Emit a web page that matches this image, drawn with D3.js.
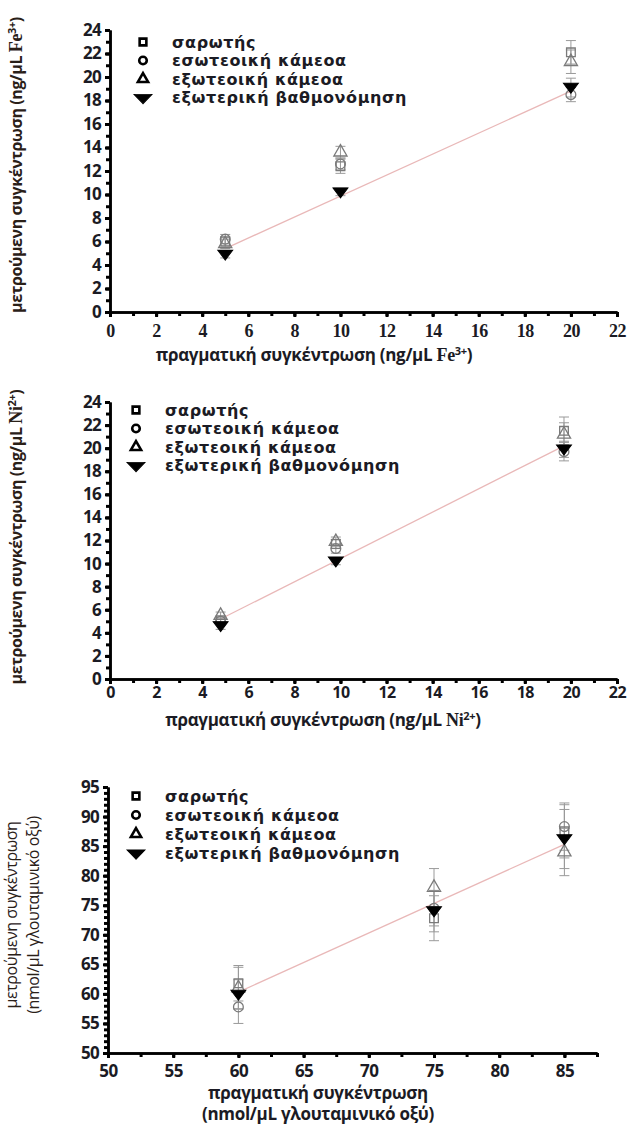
<!DOCTYPE html>
<html>
<head>
<meta charset="utf-8">
<script src="https://cdn.jsdelivr.net/npm/d3@7"></script>
<style>
  body { margin: 0; background: #fff; }
  svg { display: block; }
</style>
</head>
<body>
<script>
// Canvas size
var width = 629;
var height = 1129;

// Legend labels (same in all three panels)
var seriesNames = ["σαρωτής", "εσωτεοική κάμεοα", "εξωτεοική κάμεοα", "εξωτερική βαθμονόμηση"];

// Panel 1 - Fe3+
var feX = [5, 10, 20];
var feScanner = [6.0, 12.4, 22.1];
var feInner = [6.2, 12.6, 18.5];
var feOuter = [5.8, 13.6, 21.3];
var feExternal = [4.9, 10.2, 19.1];
var feErr = [[0.4, 0.6, 1.0], [0.4, 0.5, 0.6], [0.4, 0.5, 1.0], [0.3, 0.3, 0.8]];
var feFitX = [5, 20];
var feFitY = [5.4, 18.8];
var feYTicks = [0, 2, 4, 6, 8, 10, 12, 14, 16, 18, 20, 22, 24];
var feXTicks = [0, 2, 4, 6, 8, 10, 12, 14, 16, 18, 20, 22];

// Panel 2 - Ni2+
var niX = [4.8, 9.8, 19.7];
var niScanner = [5.1, 11.7, 21.5];
var niInner = [5.0, 11.3, 19.7];
var niOuter = [5.5, 11.9, 21.2];
var niExternal = [4.6, 10.2, 19.9];
var niErr = [[0.3, 0.4, 1.2], [0.3, 0.4, 0.8], [0.3, 0.4, 1.0], [0.3, 0.3, 0.7]];
var niFitX = [4.8, 19.7];
var niFitY = [5.2, 20.2];
var niYTicks = [0, 2, 4, 6, 8, 10, 12, 14, 16, 18, 20, 22, 24];
var niXTicks = [0, 2, 4, 6, 8, 10, 12, 14, 16, 18, 20, 22];

// Panel 3 - glutamic acid
var gluX = [60, 75, 85];
var gluScanner = [61.8, 72.8, 87.5];
var gluInner = [57.8, 74.5, 88.3];
var gluOuter = [61.0, 78.0, 84.0];
var gluExternal = [59.9, 74.0, 86.2];
var gluErr = [[3.0, 3.8, 4.5], [2.8, 3.0, 4.0], [3.5, 3.2, 4.0], [2.5, 3.5, 5.0]];
var gluFitX = [60, 85];
var gluFitY = [60.3, 85.3];
var gluYTicks = [50, 55, 60, 65, 70, 75, 80, 85, 90, 95];
var gluXTicks = [50, 55, 60, 65, 70, 75, 80, 85];

var svg = d3.select("body").append("svg")
    .attr("width", width)
    .attr("height", height);

var textColor = "#1b1b24";
var markerGray = "#7a7a7a";
var symbols = [d3.symbolSquare, d3.symbolCircle, d3.symbolTriangle, d3.symbolTriangle];

function addParts(t, line) {
  line.forEach(function(part) {
    var s = t.append("tspan").text(part.t);
    if (part.serif) s.style("font-family", "'Liberation Serif', serif").style("font-size", "18px");
    if (part.sup) s.attr("dy", "-6").style("font-size", "11px");
    if (part.after) s.attr("dy", "6");
  });
}

function drawPanel(p) {
  var x = d3.scaleLinear().domain(p.xDomain).range([p.left, p.right]);
  var y = d3.scaleLinear().domain(p.yDomain).range([p.bottom, p.top]);
  var g = svg.append("g");

  // minor ticks
  var yMinor = g.append("g")
      .attr("transform", "translate(" + p.left + ",0)")
      .call(d3.axisLeft(y).tickValues(d3.range(p.yDomain[0], p.yDomain[1] + 0.001, p.yMinor))
        .tickSize(4).tickFormat("").tickSizeOuter(0));
  var xMinor = g.append("g")
      .attr("transform", "translate(0," + p.bottom + ")")
      .call(d3.axisBottom(x).tickValues(d3.range(p.xDomain[0], p.xDomain[1] + 0.001, p.xMinor))
        .tickSize(4).tickFormat("").tickSizeOuter(0));

  // major ticks + labels
  var yAxis = g.append("g")
      .attr("transform", "translate(" + p.left + ",0)")
      .call(d3.axisLeft(y).tickValues(p.yTicks).tickSize(5).tickPadding(4).tickSizeOuter(0));
  var xAxis = g.append("g")
      .attr("transform", "translate(0," + p.bottom + ")")
      .call(d3.axisBottom(x).tickValues(p.xTicks).tickSize(5).tickPadding(p.xPad).tickSizeOuter(0));

  [yMinor, xMinor, yAxis, xAxis].forEach(function(a) {
    a.select(".domain").attr("stroke", "#000").attr("stroke-width", 2.5);
    a.selectAll(".tick line").attr("stroke", "#000").attr("stroke-width", 3);
  });
  yAxis.selectAll(".tick text")
      .attr("fill", textColor)
      .style("font", "bold 17px 'Open Sans', sans-serif")
      .attr("letter-spacing", "-0.7px");
  xAxis.selectAll(".tick text")
      .attr("fill", textColor)
      .style("font", p.xTickFont)
      .attr("letter-spacing", "-0.5px");

  // fit line
  g.append("line")
      .attr("x1", x(p.fitX[0])).attr("y1", y(p.fitY[0]))
      .attr("x2", x(p.fitX[1])).attr("y2", y(p.fitY[1]))
      .attr("stroke", "#e9b8b8").attr("stroke-width", 1.3);

  // error bars then markers
  p.series.forEach(function(vals, si) {
    var err = p.err[si];
    var eb = g.selectAll(null).data(p.xs.map(function(xv, i) { return {x: xv, y: vals[i], e: err[i]}; }))
      .enter().append("g").attr("stroke", "#9a9a9a").attr("stroke-width", 1);
    eb.append("line")
      .attr("x1", function(d) { return x(d.x); }).attr("x2", function(d) { return x(d.x); })
      .attr("y1", function(d) { return y(d.y - d.e); }).attr("y2", function(d) { return y(d.y + d.e); });
    eb.append("line")
      .attr("x1", function(d) { return x(d.x) - 5; }).attr("x2", function(d) { return x(d.x) + 5; })
      .attr("y1", function(d) { return y(d.y - d.e); }).attr("y2", function(d) { return y(d.y - d.e); });
    eb.append("line")
      .attr("x1", function(d) { return x(d.x) - 5; }).attr("x2", function(d) { return x(d.x) + 5; })
      .attr("y1", function(d) { return y(d.y + d.e); }).attr("y2", function(d) { return y(d.y + d.e); });
  });

  p.series.forEach(function(vals, si) {
    g.selectAll(null).data(p.xs.map(function(xv, i) { return {x: xv, y: vals[i]}; }))
      .enter().append("path")
      .attr("d", d3.symbol().type(symbols[si]).size(si === 3 ? 80 : 75))
      .attr("transform", function(d) {
        return "translate(" + x(d.x) + "," + (y(d.y) + (si === 3 ? -1 : 0)) + ")" + (si === 3 ? " rotate(180) scale(1.1,0.85)" : "");
      })
      .attr("fill", si === 3 ? "#000" : "none")
      .attr("stroke", si === 3 ? "#000" : markerGray)
      .attr("stroke-width", si === 3 ? 1 : 1.3);
  });

  // legend
  var leg = g.selectAll(null).data(seriesNames).enter().append("g")
      .attr("transform", function(d, i) { return "translate(" + p.legX + "," + (p.legY + i * p.legStep) + ")"; });
  leg.append("path")
      .attr("d", function(d, i) { return d3.symbol().type(symbols[i]).size(i === 3 ? 75 : 45)(); })
      .attr("transform", function(d, i) { return i === 3 ? "rotate(180) scale(1.35,0.8)" : null; })
      .attr("fill", function(d, i) { return i === 3 ? "#000" : "none"; })
      .attr("stroke", "#000")
      .attr("stroke-width", function(d, i) { return i === 3 ? 1 : 2.6; });
  leg.append("text")
      .attr("x", 29).attr("dy", "0.35em")
      .attr("fill", textColor)
      .style("font", "bold 16px 'DejaVu Sans', sans-serif")
      .attr("letter-spacing", "0.6px")
      .text(function(d) { return d; });

  // x title
  var xt = g.append("text")
      .attr("fill", textColor)
      .attr("text-anchor", "middle")
      .style("font", "bold 17px 'Open Sans', sans-serif")
      .attr("letter-spacing", "-0.3px");
  p.xTitle.forEach(function(line, i) {
    addParts(xt.append("tspan").attr("x", p.xTitleX).attr("y", p.xTitleY + i * 21), line);
  });

  // y title
  var yt = g.append("text")
      .attr("fill", "#2a2018")
      .attr("text-anchor", "middle")
      .attr("transform", "translate(" + p.yTitleX + "," + p.yTitleY + ") rotate(-90)")
      .style("font", p.yTitleFont)
      .attr("letter-spacing", "-0.4px");
  p.yTitle.forEach(function(line, i) {
    addParts(yt.append("tspan").attr("x", 0).attr("y", i * 22), line);
  });
}

drawPanel({
  xs: feX, series: [feScanner, feInner, feOuter, feExternal], err: feErr,
  fitX: feFitX, fitY: feFitY,
  xDomain: [0, 22], yDomain: [0, 24], xTicks: feXTicks, yTicks: feYTicks, xMinor: 1, yMinor: 1,
  left: 110, right: 617, top: 30, bottom: 312,
  xTickFont: "bold 18px 'Liberation Serif', serif", xPad: 7,
  legX: 143, legY: 42, legStep: 18.5,
  xTitleX: 314, xTitleY: 361,
  xTitle: [[{t: "πραγματική συγκέντρωση (ng/μL "}, {t: "Fe", serif: true}, {t: "3+", sup: true}, {t: ")", after: true}]],
  yTitleX: 22, yTitleY: 165, yTitleFont: "bold 16px 'Open Sans', sans-serif",
  yTitle: [[{t: "μετρούμενη συγκέντρωση (ng/μL "}, {t: "Fe", serif: true}, {t: "3+", sup: true}, {t: ")", after: true}]]
});

drawPanel({
  xs: niX, series: [niScanner, niInner, niOuter, niExternal], err: niErr,
  fitX: niFitX, fitY: niFitY,
  xDomain: [0, 22], yDomain: [0, 24], xTicks: niXTicks, yTicks: niYTicks, xMinor: 1, yMinor: 1,
  left: 110, right: 617, top: 402, bottom: 679,
  xTickFont: "bold 16px 'Open Sans', sans-serif", xPad: 3,
  legX: 136, legY: 410, legStep: 18.5,
  xTitleX: 323, xTitleY: 726,
  xTitle: [[{t: "πραγματική συγκέντρωση (ng/μL "}, {t: "Ni", serif: true}, {t: "2+", sup: true}, {t: ")", after: true}]],
  yTitleX: 22, yTitleY: 537, yTitleFont: "bold 16px 'Open Sans', sans-serif",
  yTitle: [[{t: "μετρούμενη συγκέντρωση (ng/μL "}, {t: "Ni", serif: true}, {t: "2+", sup: true}, {t: ")", after: true}]]
});

drawPanel({
  xs: gluX, series: [gluScanner, gluInner, gluOuter, gluExternal], err: gluErr,
  fitX: gluFitX, fitY: gluFitY,
  xDomain: [50, 87.5], yDomain: [50, 95], xTicks: gluXTicks, yTicks: gluYTicks, xMinor: 2.5, yMinor: 1,
  left: 108, right: 597, top: 787, bottom: 1053,
  xTickFont: "bold 17px 'Open Sans', sans-serif", xPad: 7,
  legX: 136, legY: 796, legStep: 19,
  xTitleX: 318, xTitleY: 1099,
  xTitle: [[{t: "πραγματική συγκέντρωση"}], [{t: "(nmol/μL γλουταμινικό οξύ)"}]],
  yTitleX: 17, yTitleY: 915, yTitleFont: "16px 'Open Sans', sans-serif",
  yTitle: [[{t: "μετρούμενη συγκέντρωση"}], [{t: "(nmol/μL γλουταμινικό οξύ)"}]]
});
</script>
</body>
</html>
